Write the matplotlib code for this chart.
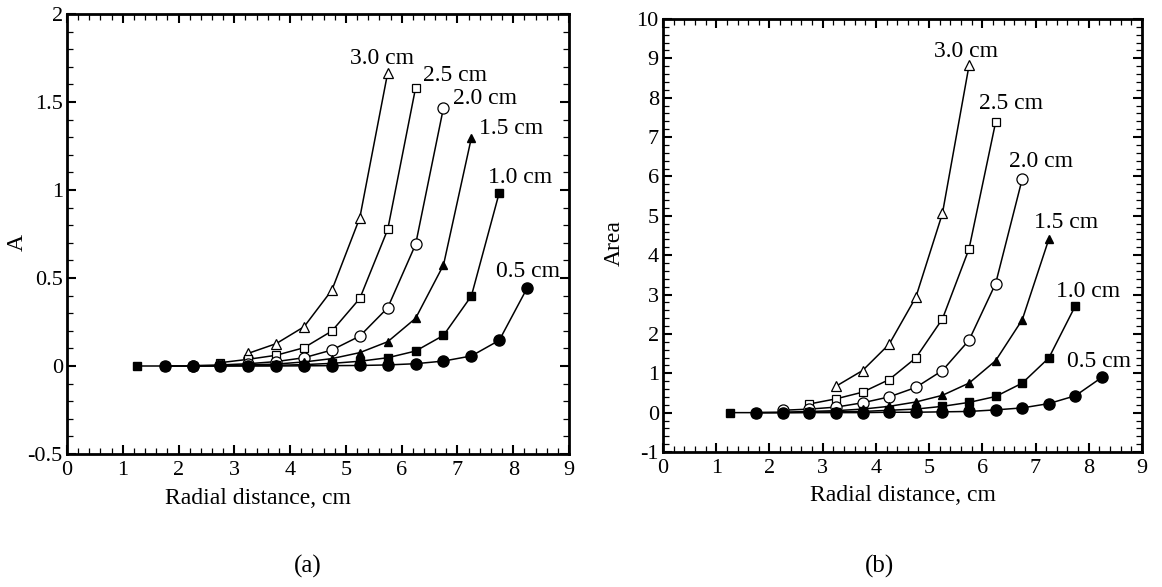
import matplotlib
matplotlib.use("Agg")
import matplotlib.pyplot as plt
from matplotlib.ticker import MultipleLocator

plt.rcParams['font.family'] = ['Liberation Serif', 'DejaVu Serif']
plt.rcParams['axes.unicode_minus'] = False

# ---------------- data ----------------
series_labels = ['3.0 cm', '2.5 cm', '2.0 cm', '1.5 cm', '1.0 cm', '0.5 cm']

x_30 = [3.25, 3.75, 4.25, 4.75, 5.25, 5.75]
x_25 = [2.75, 3.25, 3.75, 4.25, 4.75, 5.25, 5.75, 6.25]
x_20 = [2.25, 2.75, 3.25, 3.75, 4.25, 4.75, 5.25, 5.75, 6.25, 6.75]
x_15 = [1.75, 2.25, 2.75, 3.25, 3.75, 4.25, 4.75, 5.25, 5.75, 6.25, 6.75, 7.25]
x_10 = [1.25, 1.75, 2.25, 2.75, 3.25, 3.75, 4.25, 4.75, 5.25, 5.75, 6.25, 6.75, 7.25, 7.75]
x_05 = [1.75, 2.25, 2.75, 3.25, 3.75, 4.25, 4.75, 5.25, 5.75, 6.25, 6.75, 7.25, 7.75, 8.25]

# (a) A
a_30 = [0.072, 0.127, 0.223, 0.432, 0.843, 1.667]
a_25 = [0.019, 0.038, 0.061, 0.104, 0.199, 0.384, 0.776, 1.581]
a_20 = [0.002, 0.006, 0.013, 0.025, 0.047, 0.091, 0.170, 0.331, 0.691, 1.468]
a_15 = [0.0, 0.0, 0.002, 0.006, 0.011, 0.023, 0.042, 0.076, 0.138, 0.271, 0.574, 1.297]
a_10 = [0.0, 0.0, 0.0, 0.001, 0.002, 0.004, 0.008, 0.015, 0.027, 0.047, 0.085, 0.174, 0.398, 0.985]
a_05 = [0.0, 0.0, 0.0, 0.0, 0.0, 0.001, 0.002, 0.003, 0.006, 0.013, 0.028, 0.057, 0.146, 0.443]

# (b) Area
b_30 = [0.67, 1.07, 1.74, 2.93, 5.06, 8.82]
b_25 = [0.22, 0.35, 0.52, 0.84, 1.39, 2.38, 4.16, 7.38]
b_20 = [0.06, 0.09, 0.14, 0.25, 0.40, 0.64, 1.07, 1.84, 3.28, 5.94]
b_15 = [0.0, 0.01, 0.03, 0.05, 0.09, 0.16, 0.27, 0.44, 0.75, 1.32, 2.36, 4.41]
b_10 = [0.0, 0.0, 0.0, 0.01, 0.02, 0.03, 0.06, 0.09, 0.16, 0.26, 0.41, 0.75, 1.39, 2.72]
b_05 = [0.0, 0.0, 0.0, 0.0, 0.0, 0.01, 0.01, 0.02, 0.03, 0.07, 0.12, 0.23, 0.43, 0.90]

x_ticks = [0, 1, 2, 3, 4, 5, 6, 7, 8, 9]
a_ticks = [-0.5, 0, 0.5, 1, 1.5, 2]
a_ticklabels = ['-0.5', '0', '0.5', '1', '1.5', '2']
b_ticks = list(range(-1, 11))

# label anchor positions (data coords, left edge)
a_label_pos = [(5.07, 1.75), (6.38, 1.65), (6.92, 1.52), (7.38, 1.35), (7.55, 1.07), (7.70, 0.535)]
b_label_pos = [(5.09, 9.18), (5.94, 7.85), (6.50, 6.38), (6.97, 4.83), (7.39, 3.08), (7.59, 1.30)]

styles = [
    dict(marker='^', ms=6.5, mfc='white', mec='black', mew=0.9),
    dict(marker='s', ms=5.5, mfc='white', mec='black', mew=0.9),
    dict(marker='o', ms=8, mfc='white', mec='black', mew=0.9),
    dict(marker='^', ms=5.5, mfc='black', mec='black'),
    dict(marker='s', ms=5.5, mfc='black', mec='black'),
    dict(marker='o', ms=8, mfc='black', mec='black'),
]

xs = [x_30, x_25, x_20, x_15, x_10, x_05]
ays = [a_30, a_25, a_20, a_15, a_10, a_05]
bys = [b_30, b_25, b_20, b_15, b_10, b_05]

fig = plt.figure(figsize=(11.62, 5.87), dpi=100)
axA = fig.add_axes([67/1162, (587-454)/587, 502/1162, 440/587])
axB = fig.add_axes([663/1162, (587-452)/587, 479/1162, 433/587])


def style_axes(ax):
    for sp in ax.spines.values():
        sp.set_linewidth(2.0)
    ax.tick_params(which='both', direction='in', top=True, right=True,
                   labelsize=16)
    ax.tick_params(which='major', length=6.5, width=1.5, pad=5)
    ax.tick_params(which='minor', length=4, width=0.9)
    ax.tick_params(axis='y', pad=3)


for x, y, st in zip(xs, ays, styles):
    axA.plot(x, y, color='black', lw=1.1, **st)
for lab, (lx, ly) in zip(series_labels, a_label_pos):
    axA.text(lx, ly, lab, fontsize=17, ha='left', va='center')
axA.set_xlim(0, 9)
axA.set_ylim(-0.5, 2)
axA.set_xticks(x_ticks)
axA.set_yticks(a_ticks)
axA.set_yticklabels(a_ticklabels)
axA.xaxis.set_minor_locator(MultipleLocator(0.2))
axA.yaxis.set_minor_locator(MultipleLocator(0.1))
style_axes(axA)
axA.set_xlabel('Radial distance, cm', fontsize=17)
axA.xaxis.set_label_coords(0.38, -0.078)
axA.set_ylabel('A', fontsize=17)
axA.yaxis.set_label_coords(-0.078, 0.48)

for x, y, st in zip(xs, bys, styles):
    axB.plot(x, y, color='black', lw=1.1, **st)
for lab, (lx, ly) in zip(series_labels, b_label_pos):
    axB.text(lx, ly, lab, fontsize=17, ha='left', va='center')
axB.set_xlim(0, 9)
axB.set_ylim(-1, 10)
axB.set_xticks(x_ticks)
axB.set_yticks(b_ticks)
axB.xaxis.set_minor_locator(MultipleLocator(0.2))
axB.yaxis.set_minor_locator(MultipleLocator(0.2))
style_axes(axB)
axB.set_xlabel('Radial distance, cm', fontsize=17)
axB.xaxis.set_label_coords(0.5, -0.077)
axB.set_ylabel('Area', fontsize=17)
axB.yaxis.set_label_coords(-0.079, 0.483)

fig.text(308/1162, 1 - 566/587, '(a)', fontsize=18, ha='center', va='center')
fig.text(880/1162, 1 - 566/587, '(b)', fontsize=18, ha='center', va='center')

fig.savefig('out.png', dpi=100)
